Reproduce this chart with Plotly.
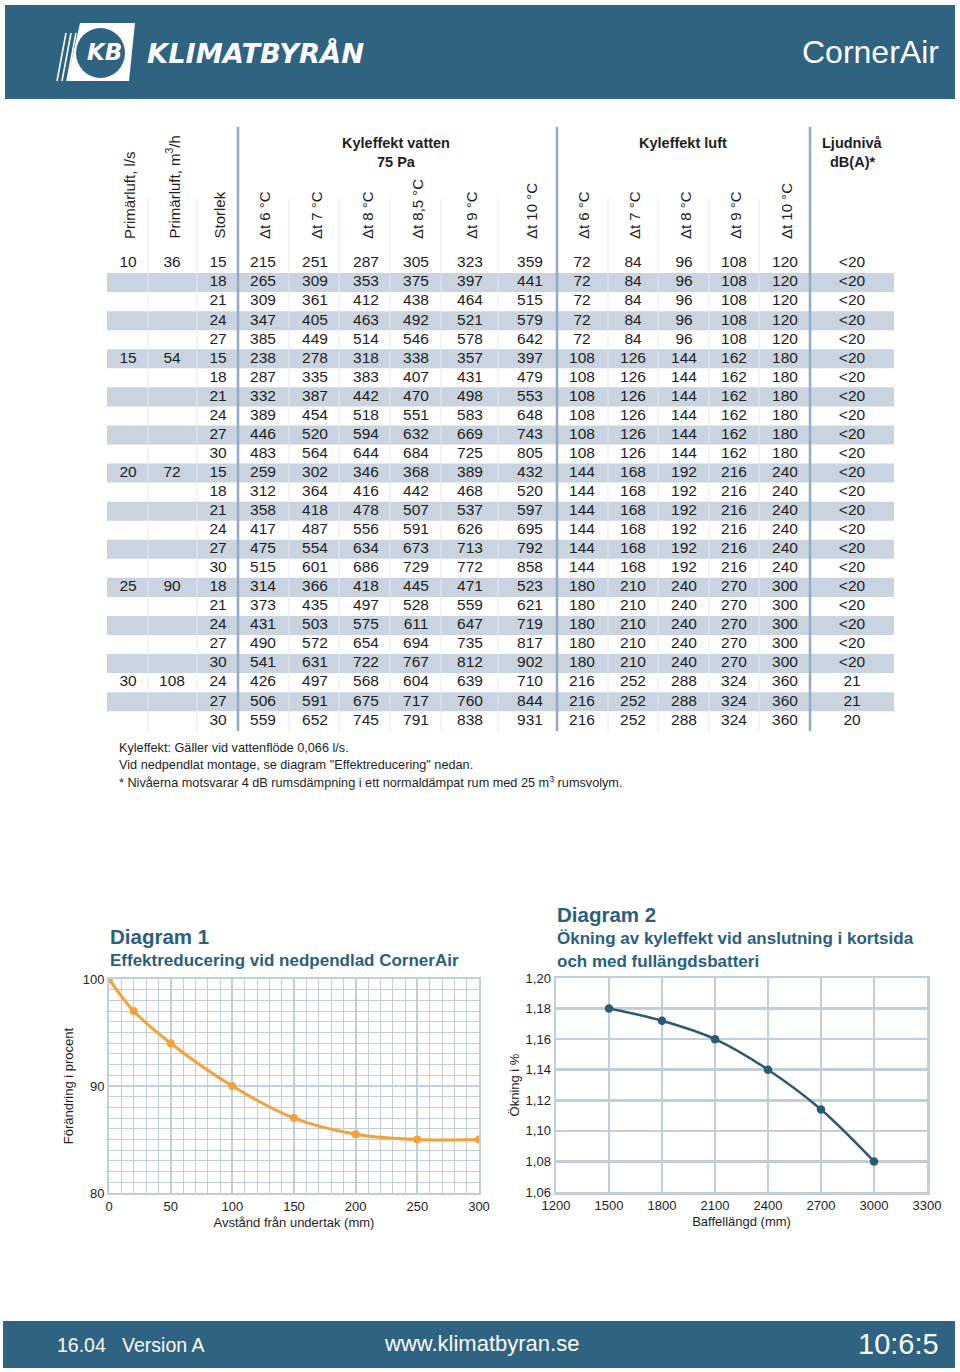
import plotly.graph_objects as go

# ---------------- DATA ----------------
PRIMAR_LS = [10, 15, 20, 25, 30]
PRIMAR_M3H = [36, 54, 72, 90, 108]
STORLEK = [[15, 18, 21, 24, 27],
           [15, 18, 21, 24, 27, 30],
           [15, 18, 21, 24, 27, 30],
           [18, 21, 24, 27, 30],
           [24, 27, 30]]
VATTEN = [
    [215, 251, 287, 305, 323, 359],
    [265, 309, 353, 375, 397, 441],
    [309, 361, 412, 438, 464, 515],
    [347, 405, 463, 492, 521, 579],
    [385, 449, 514, 546, 578, 642],
    [238, 278, 318, 338, 357, 397],
    [287, 335, 383, 407, 431, 479],
    [332, 387, 442, 470, 498, 553],
    [389, 454, 518, 551, 583, 648],
    [446, 520, 594, 632, 669, 743],
    [483, 564, 644, 684, 725, 805],
    [259, 302, 346, 368, 389, 432],
    [312, 364, 416, 442, 468, 520],
    [358, 418, 478, 507, 537, 597],
    [417, 487, 556, 591, 626, 695],
    [475, 554, 634, 673, 713, 792],
    [515, 601, 686, 729, 772, 858],
    [314, 366, 418, 445, 471, 523],
    [373, 435, 497, 528, 559, 621],
    [431, 503, 575, 611, 647, 719],
    [490, 572, 654, 694, 735, 817],
    [541, 631, 722, 767, 812, 902],
    [426, 497, 568, 604, 639, 710],
    [506, 591, 675, 717, 760, 844],
    [559, 652, 745, 791, 838, 931],
]
LUFT_BY_GROUP = [[72, 84, 96, 108, 120],
                 [108, 126, 144, 162, 180],
                 [144, 168, 192, 216, 240],
                 [180, 210, 240, 270, 300],
                 [216, 252, 288, 324, 360]]
LJUD = ["<20"] * 22 + ["21", "21", "20"]

HEADERS = ["Primärluft, l/s", "Primärluft, m<sup>3</sup>/h", "Storlek",
           "Δt 6 °C", "Δt 7 °C", "Δt 8 °C", "Δt 8,5 °C", "Δt 9 °C", "Δt 10 °C",
           "Δt 6 °C", "Δt 7 °C", "Δt 8 °C", "Δt 9 °C", "Δt 10 °C"]

NOTES = ["Kyleffekt: Gäller vid vattenflöde 0,066 l/s.",
         "Vid nedpendlat montage, se diagram \"Effektreducering\" nedan.",
         "* Nivåerna motsvarar 4 dB rumsdämpning i ett normaldämpat rum med 25 m<sup>3</sup> rumsvolym."]

D1_X = [0, 20, 50, 100, 150, 200, 250, 300]
D1_Y = [100, 97, 94, 90, 87, 85.5, 85, 85]
D2_X = [1500, 1800, 2100, 2400, 2700, 3000]
D2_Y = [1.180, 1.172, 1.160, 1.140, 1.114, 1.080]

# ---------------- LAYOUT CONSTANTS ----------------
W, H = 960, 1372
BLUE = "#2e6381"
TITLE_BLUE = "#2a5f7e"
SHADE = "#c9d4e0"
GRID = "#c3cedb"
TXT = "#1e1e1e"
FONT = "Liberation Sans, Arial, sans-serif"

COL_X = [128, 172, 218, 263, 315, 366, 416, 470, 530, 582, 633, 684, 734, 785, 852]
ROW_Y0, ROW_H = 263.5, 19.05
THIN_SEP = [148, 197, 289, 339, 390, 441, 498, 608, 658, 709, 759]
THICK_SEP = [238, 557, 810]


def px(x):
    return x / W


def py(y):
    return 1 - y / H


# build flat row lists
rows_st, rows_luft, group_first = [], [], []
for g, sizes in enumerate(STORLEK):
    for k, s in enumerate(sizes):
        if k == 0:
            group_first.append(len(rows_st))
        rows_st.append(str(s))
        rows_luft.append(LUFT_BY_GROUP[g])
n_rows = len(rows_st)
row_y = [ROW_Y0 + i * ROW_H for i in range(n_rows)]

fig = go.Figure()


def text_col(x, ys, texts):
    fig.add_trace(go.Scatter(
        x=[x] * len(ys), y=ys, text=texts, mode="text",
        textfont=dict(family=FONT, size=15.5, color=TXT),
        textposition="middle center", xaxis="x3", yaxis="y3",
        hoverinfo="skip", showlegend=False))


group_y = [row_y[i] for i in group_first]
text_col(COL_X[0], group_y, [str(v) for v in PRIMAR_LS])
text_col(COL_X[1], group_y, [str(v) for v in PRIMAR_M3H])
text_col(COL_X[2], row_y, rows_st)
for c in range(6):
    text_col(COL_X[3 + c], row_y, [str(r[c]) for r in VATTEN])
for c in range(5):
    text_col(COL_X[9 + c], row_y, [str(r[c]) for r in rows_luft])
text_col(COL_X[14], row_y, LJUD)

# diagram 1
fig.add_trace(go.Scatter(
    x=D1_X, y=D1_Y, mode="lines+markers", line=dict(color="#f4a235", width=3, shape="spline"),
    marker=dict(size=8, color="#f4a235"), xaxis="x", yaxis="y", showlegend=False, hoverinfo="skip"))
# diagram 2
fig.add_trace(go.Scatter(
    x=D2_X, y=D2_Y, mode="lines+markers", line=dict(color="#2c5a72", width=2.5, shape="spline"),
    marker=dict(size=8.5, color="#2c5a72"), xaxis="x2", yaxis="y2", showlegend=False, hoverinfo="skip"))

shapes = []
# header banner & footer
shapes.append(dict(type="rect", xref="paper", yref="paper", x0=px(5), x1=px(955), y0=py(99), y1=py(5),
                   fillcolor=BLUE, line=dict(width=0), layer="below"))
shapes.append(dict(type="rect", xref="paper", yref="paper", x0=px(3), x1=px(955), y0=py(1368), y1=py(1321),
                   fillcolor=BLUE, line=dict(width=0), layer="below"))
# logo
shapes.append(dict(type="path", xref="x3", yref="y3",
                   path="M 80 23 L 135 23 L 129 81 L 67 81 Z", fillcolor="white", line=dict(width=0)))
for dx in [0, 5, 10]:
    shapes.append(dict(type="line", xref="x3", yref="y3", x0=57 + dx, y0=81, x1=66 + dx, y1=33,
                       line=dict(color="white", width=1.6)))
shapes.append(dict(type="circle", xref="x3", yref="y3", x0=76, x1=125, y0=28, y1=78,
                   fillcolor=BLUE, line=dict(width=0)))

# row shading
for i in range(1, n_rows, 2):
    shapes.append(dict(type="rect", xref="x3", yref="y3", x0=107, x1=894,
                       y0=row_y[i] - ROW_H / 2, y1=row_y[i] + ROW_H / 2,
                       fillcolor=SHADE, line=dict(width=0), layer="below"))
table_bottom = row_y[-1] + ROW_H / 2 + 1
for x in THIN_SEP:
    shapes.append(dict(type="line", xref="x3", yref="y3", x0=x, x1=x, y0=198, y1=table_bottom,
                       line=dict(color="#e4e9ef", width=1)))
for x in THICK_SEP:
    shapes.append(dict(type="line", xref="x3", yref="y3", x0=x, x1=x, y0=127, y1=table_bottom,
                       line=dict(color="#93aac3", width=2.5)))

ann = []
# banner texts
ann.append(dict(x=85, y=52, xref="x3", yref="y3", text="<b><i>KB</i></b>", showarrow=False,
                font=dict(family="DejaVu Sans", size=23, color="white"), xanchor="left", yanchor="middle"))
ann.append(dict(x=145, y=53, xref="x3", yref="y3", text="<b><i>KLIMATBYRÅN</i></b>", showarrow=False,
                font=dict(family="DejaVu Sans", size=27.3, color="white"), xanchor="left", yanchor="middle"))
ann.append(dict(x=941, y=52, xref="x3", yref="y3", text="CornerAir", showarrow=False,
                font=dict(family="Liberation Sans", size=32, color="white"), xanchor="right", yanchor="middle"))
# footer texts
ann.append(dict(x=55, y=1345, xref="x3", yref="y3", text="16.04   Version A", showarrow=False,
                font=dict(family="Liberation Sans Narrow, Liberation Sans", size=19.5, color="white"),
                xanchor="left", yanchor="middle"))
ann.append(dict(x=481, y=1343, xref="x3", yref="y3", text="www.klimatbyran.se", showarrow=False,
                font=dict(family="Liberation Sans Narrow, Liberation Sans", size=22, color="white"),
                xanchor="center", yanchor="middle"))
ann.append(dict(x=941, y=1344, xref="x3", yref="y3", text="10:6:5", showarrow=False,
                font=dict(family="Liberation Sans Narrow, Liberation Sans", size=29, color="white"),
                xanchor="right", yanchor="middle"))

# table headers
for c, h in enumerate(HEADERS):
    ann.append(dict(x=COL_X[c] + 1, y=241, xref="x3", yref="y3", text=h, showarrow=False, textangle=-90,
                    font=dict(family=FONT, size=15, color=TXT), xanchor="center", yanchor="bottom"))
for txt, x in [("<b>Kyleffekt vatten</b>", 396), ("<b>Kyleffekt luft</b>", 683), ("<b>Ljudnivå</b>", 852)]:
    ann.append(dict(x=x, y=143, xref="x3", yref="y3", text=txt, showarrow=False,
                    font=dict(family=FONT, size=14.5, color=TXT), xanchor="center", yanchor="middle"))
for txt, x in [("<b>75 Pa</b>", 396), ("<b>dB(A)*</b>", 852)]:
    ann.append(dict(x=x, y=162, xref="x3", yref="y3", text=txt, showarrow=False,
                    font=dict(family=FONT, size=14.5, color=TXT), xanchor="center", yanchor="middle"))
# notes
for k, t in enumerate(NOTES):
    ann.append(dict(x=117, y=748 + 17 * k, xref="x3", yref="y3", text=t, showarrow=False,
                    font=dict(family=FONT, size=12.7, color=TXT), xanchor="left", yanchor="middle"))

# diagram titles
TF = dict(family=FONT, color=TITLE_BLUE)
ann.append(dict(x=108, y=936, xref="x3", yref="y3", text="<b>Diagram 1</b>", showarrow=False,
                font=dict(**TF, size=20.5), xanchor="left", yanchor="middle"))
ann.append(dict(x=108, y=960, xref="x3", yref="y3", text="<b>Effektreducering vid nedpendlad CornerAir</b>",
                showarrow=False, font=dict(**TF, size=17), xanchor="left", yanchor="middle"))
ann.append(dict(x=555, y=914, xref="x3", yref="y3", text="<b>Diagram 2</b>", showarrow=False,
                font=dict(**TF, size=20.5), xanchor="left", yanchor="middle"))
ann.append(dict(x=555, y=938, xref="x3", yref="y3", text="<b>Ökning av kyleffekt vid anslutning i kortsida</b>",
                showarrow=False, font=dict(**TF, size=17), xanchor="left", yanchor="middle"))
ann.append(dict(x=555, y=961, xref="x3", yref="y3", text="<b>och med fullängdsbatteri</b>",
                showarrow=False, font=dict(**TF, size=17), xanchor="left", yanchor="middle"))

AF = dict(family=FONT, size=13, color=TXT)
axis_common = dict(showline=True, mirror=True, linecolor=GRID, zeroline=False, ticks="",
                   automargin=False, tickfont=dict(family=FONT, size=13, color=TXT))

fig.update_layout(
    width=W, height=H, autosize=False,
    margin=dict(l=0, r=0, t=0, b=0, pad=0, autoexpand=False),
    paper_bgcolor="white", plot_bgcolor="rgba(0,0,0,0)",
    shapes=shapes, annotations=ann, showlegend=False,
    xaxis=dict(domain=[px(109), px(479)], range=[0, 300], dtick=50, tick0=0, anchor="y",
               gridcolor=GRID, gridwidth=2, linewidth=2,
               title=dict(text="Avstånd från undertak (mm)", font=AF, standoff=5),
               minor=dict(dtick=10, showgrid=True, gridcolor=GRID, gridwidth=1), **axis_common),
    yaxis=dict(domain=[py(1193), py(979)], range=[80, 100], dtick=10, tick0=80, anchor="x",
               gridcolor=GRID, gridwidth=2, linewidth=2,
               title=dict(text="Förändring i procent", font=AF, standoff=6),
               minor=dict(dtick=1, showgrid=True, gridcolor=GRID, gridwidth=1), **axis_common),
    xaxis2=dict(domain=[px(556), px(927)], range=[1200, 3300], dtick=300, tick0=1200, anchor="y2",
                title=dict(text="Baffellängd (mm)", font=AF, standoff=5),
                gridcolor=GRID, gridwidth=2.5, linewidth=2.5, **axis_common),
    yaxis2=dict(domain=[py(1192), py(978)], range=[1.06, 1.20], dtick=0.02, tick0=1.06, anchor="x2",
                title=dict(text="Ökning i %", font=AF, standoff=3),
                tickformat=".2f", gridcolor=GRID, gridwidth=2.5, linewidth=2.5, **axis_common),
    separators=", ",
    xaxis3=dict(domain=[0, 1], range=[0, W], visible=False, anchor="y3", fixedrange=True, automargin=False),
    yaxis3=dict(domain=[0, 1], range=[H, 0], visible=False, anchor="x3", fixedrange=True, automargin=False),
)

fig.write_html("out.html", config={"displayModeBar": False, "staticPlot": True},
               post_script="document.body.style.margin='0';document.body.style.overflow='hidden';")
